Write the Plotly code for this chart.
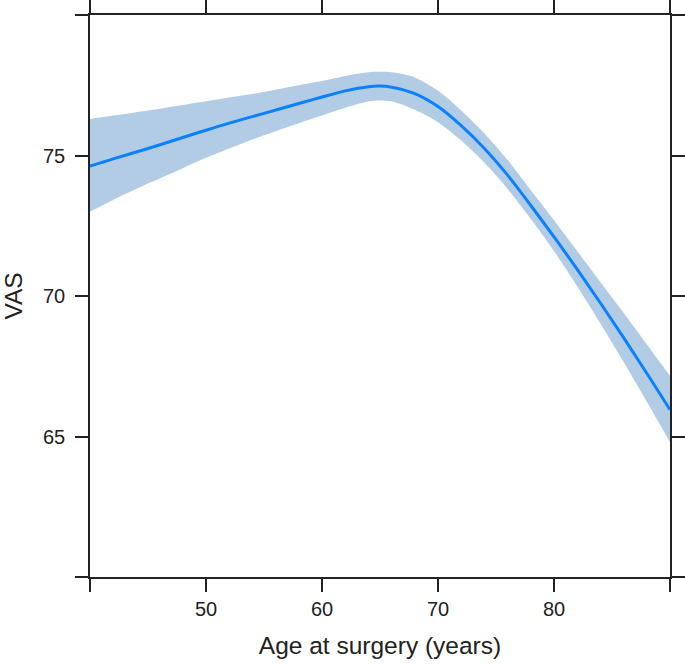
import plotly.graph_objects as go

# Age at surgery (years)
age = [40, 42, 45, 48, 50, 52, 55, 58, 60, 62, 64, 65, 66, 68, 70, 72, 74, 76, 78, 80, 82, 84, 86, 88, 90]
# Fitted VAS
vas_fit = [74.62, 74.88, 75.25, 75.64, 75.9, 76.15, 76.5, 76.85, 77.08, 77.3, 77.45, 77.47, 77.43, 77.2, 76.74,
           76.06, 75.25, 74.3, 73.22, 72.1, 70.95, 69.75, 68.52, 67.25, 65.95]
# Confidence band
vas_lower = [73.0, 73.42, 74.0, 74.55, 74.92, 75.25, 75.72, 76.15, 76.42, 76.7, 76.92, 76.96, 76.92, 76.63, 76.18,
             75.53, 74.74, 73.81, 72.74, 71.6, 70.35, 69.02, 67.65, 66.24, 64.8]
vas_upper = [76.3, 76.42, 76.6, 76.8, 76.93, 77.06, 77.26, 77.5, 77.65, 77.83, 77.96, 77.98, 77.96, 77.78, 77.3,
             76.6, 75.78, 74.84, 73.76, 72.7, 71.6, 70.5, 69.4, 68.28, 67.15]

x_tickvals = [40, 50, 60, 70, 80, 90]
x_ticktext = ["", "50", "60", "70", "80", ""]
y_tickvals = [60, 65, 70, 75, 80]
y_ticktext = ["", "65", "70", "75", ""]

FONT = "Liberation Sans, Arial, sans-serif"

fig = go.Figure()
fig.add_trace(go.Scatter(
    x=age, y=vas_lower, mode="lines", line=dict(width=0, shape="spline", color="#b3cce6"),
    hoverinfo="skip", showlegend=False))
fig.add_trace(go.Scatter(
    x=age, y=vas_upper, mode="lines", fill="tonexty", fillcolor="#b3cce6",
    line=dict(width=0, shape="spline", color="#b3cce6"), hoverinfo="skip", showlegend=False))
fig.add_trace(go.Scatter(
    x=age, y=vas_fit, mode="lines",
    line=dict(color="#0a80ff", width=3, shape="spline"), showlegend=False))

axis_common = dict(
    showgrid=False, zeroline=False, showline=True, linecolor="#222222", linewidth=1.5,
    mirror="ticks", ticks="outside", ticklen=13, tickwidth=1.5, tickcolor="#222222",
    tickfont=dict(family=FONT, size=20, color="#222222"), automargin=False,
)
fig.update_xaxes(range=[40, 90], tickvals=x_tickvals, ticktext=x_ticktext,
                 title=dict(text="Age at surgery (years)", standoff=18,
                            font=dict(family=FONT, size=24.5, color="#222222")),
                 **axis_common)
fig.update_yaxes(range=[60, 80], tickvals=y_tickvals, ticktext=y_ticktext,
                 ticklabelstandoff=6,
                 title=dict(text="VAS", standoff=14,
                            font=dict(family=FONT, size=24.5, color="#222222")),
                 **axis_common)
fig.update_layout(
    width=685, height=665,
    margin=dict(l=90, r=15, t=15, b=88),
    plot_bgcolor="white", paper_bgcolor="white",
)
fig.write_html("out.html", config={"displayModeBar": False},
               post_script="document.body.style.margin='0';document.body.style.overflow='hidden';")
